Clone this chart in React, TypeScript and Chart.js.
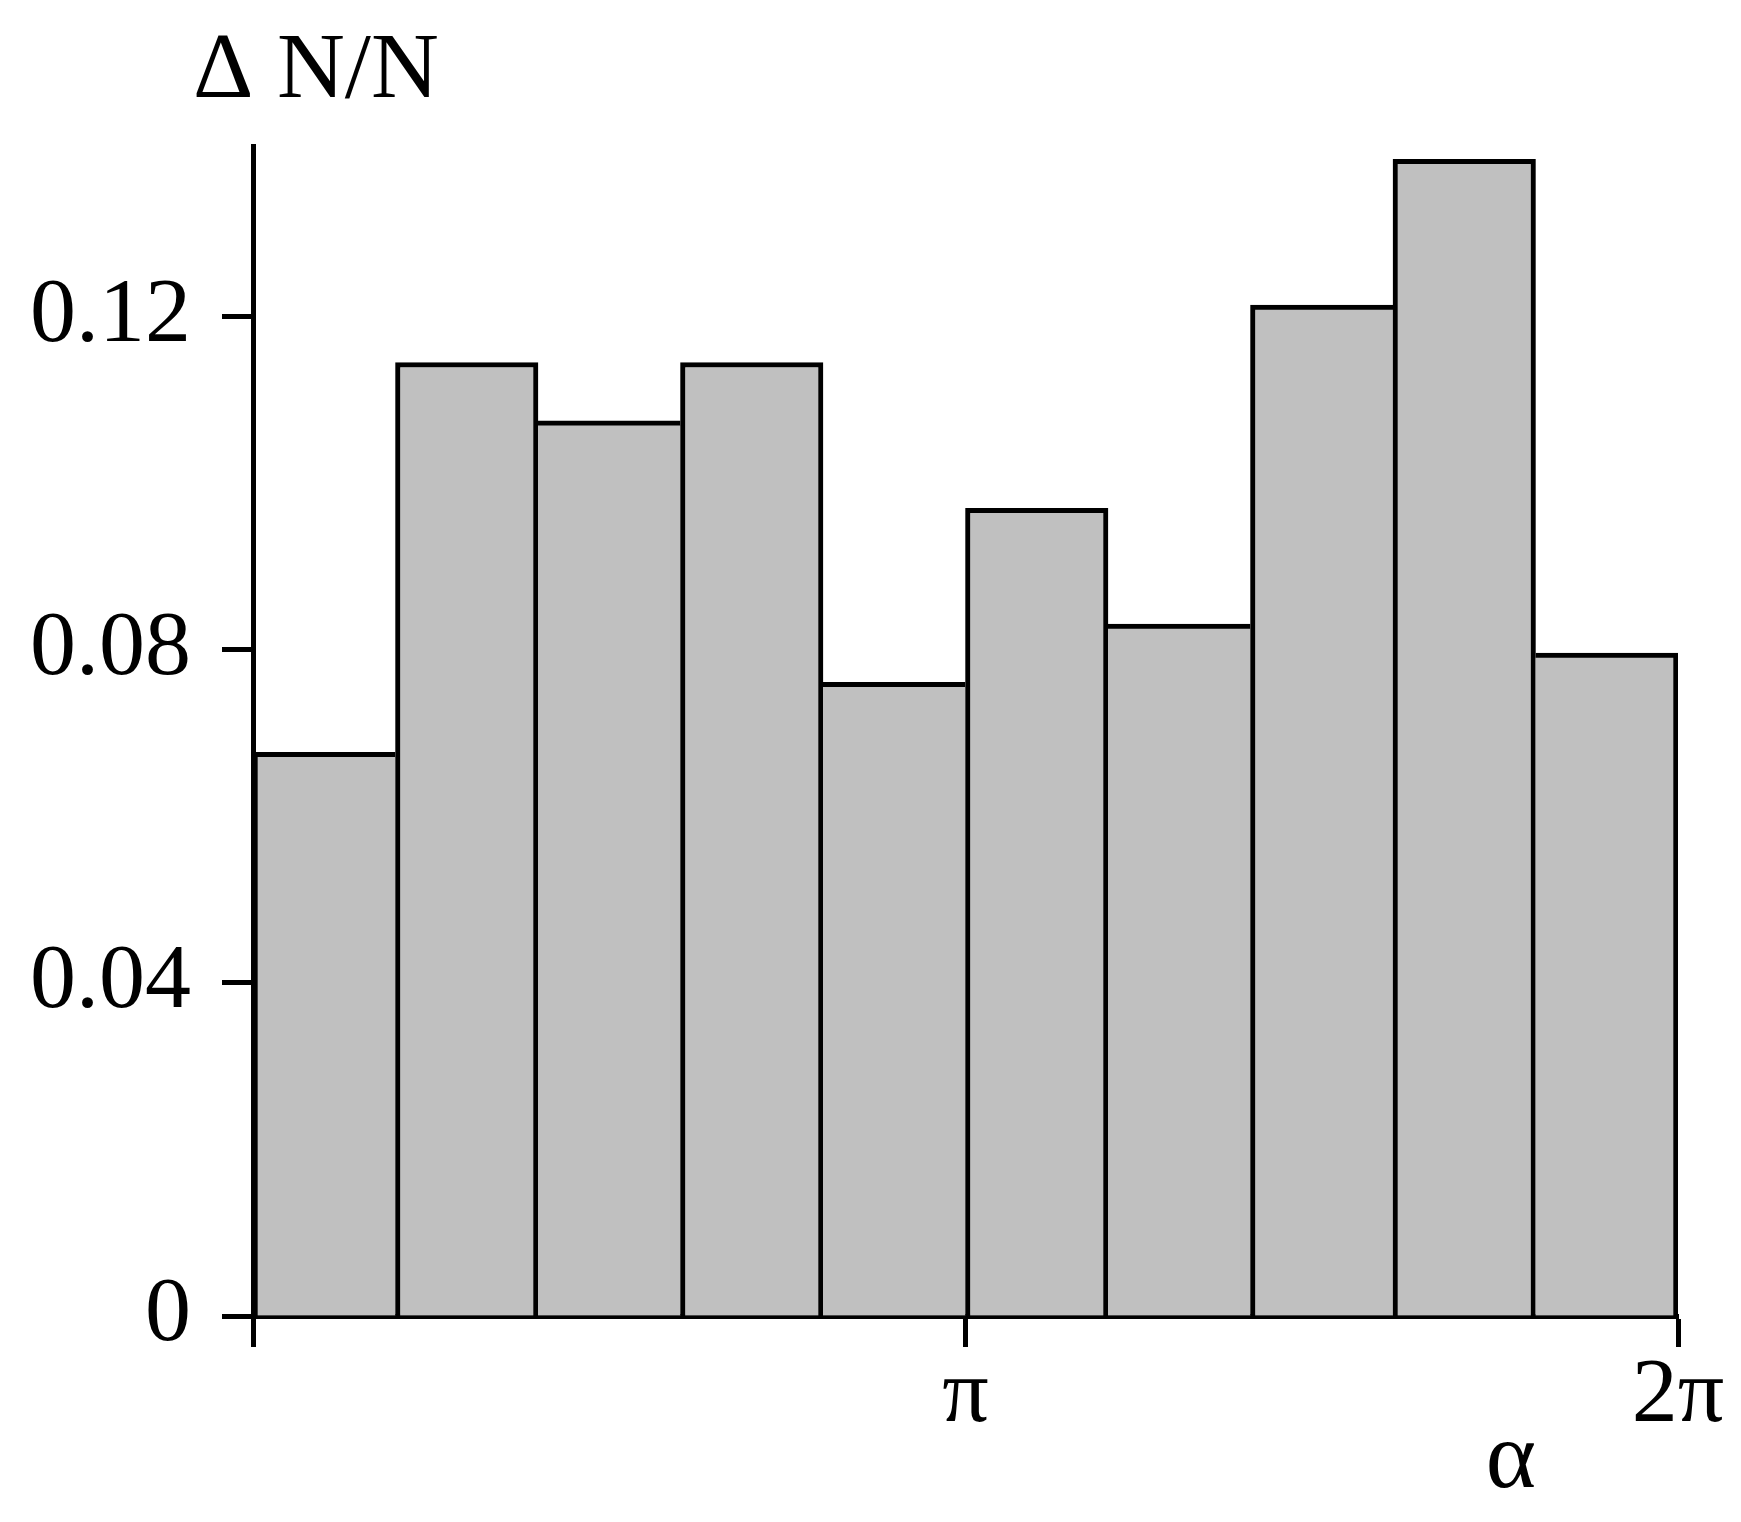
import React, { useEffect, useRef } from "react";
import { Chart, registerables } from "chart.js";

Chart.register(...registerables);

// ---- data ----
const binCentersInPi: number[] = [0.1, 0.3, 0.5, 0.7, 0.9, 1.1, 1.3, 1.5, 1.7, 1.9];
const fractions: number[] = [0.0677, 0.1145, 0.1075, 0.1145, 0.0761, 0.097, 0.0831, 0.1214, 0.1389, 0.0796];
const yTickValues: number[] = [0, 0.04, 0.08, 0.12];
const yTickLabels: string[] = ["0", "0.04", "0.08", "0.12"];
const xTickValuesInPi: number[] = [0, 1, 2];
const xTickLabels: string[] = ["", "π", "2π"];
const yAxisTitle = "Δ N/N";
const xAxisTitle = "α";
const yMax = 0.1405;

const W = 1741;
const H = 1522;
const FONT = "'Liberation Serif', 'Times New Roman', Times, serif";

const axisTitles = {
  id: "axisTitles",
  afterDraw(chart: any) {
    const { ctx, chartArea } = chart;
    ctx.save();
    ctx.fillStyle = "#000";
    ctx.textBaseline = "alphabetic";
    ctx.font = `94px ${FONT}`;
    ctx.textAlign = "left";
    ctx.fillText(yAxisTitle, chartArea.left - 60, chartArea.top - 49);
    ctx.font = `96px ${FONT}`;
    ctx.textAlign = "center";
    ctx.fillText(xAxisTitle, chartArea.right - 167, chartArea.bottom + 171);
    ctx.restore();
  },
};

export default function App() {
  const ref = useRef<HTMLCanvasElement>(null);

  useEffect(() => {
    const canvas = ref.current;
    if (!canvas) return;
    const data = binCentersInPi.map((c, i) => ({ x: c * Math.PI, y: fractions[i] }));
    const bw = 5;
    const borderWidth = (ctx: any) => {
      const i = ctx.dataIndex;
      if (i === undefined) return bw;
      const h = fractions[i];
      const prev = i > 0 ? fractions[i - 1] : -Infinity;
      const next = i < fractions.length - 1 ? fractions[i + 1] : -Infinity;
      return { top: bw, bottom: 0, left: h > prev ? bw : 0, right: h >= next ? bw : 0 };
    };

    const chart = new Chart(canvas, {
      type: "bar",
      data: {
        datasets: [
          {
            data: data as any,
            backgroundColor: "#c0c0c0",
            borderColor: "#000",
            borderWidth: borderWidth as any,
            borderSkipped: false,
            barPercentage: 1,
            categoryPercentage: 1,
          },
        ],
      },
      options: {
        responsive: false,
        animation: false,
        devicePixelRatio: 1,
        layout: { padding: { top: 146, right: 63, bottom: 0, left: 0 } },
        plugins: {
          legend: { display: false },
          tooltip: { enabled: false },
          title: { display: false },
        },
        scales: {
          x: {
            type: "linear",
            min: 0,
            max: 2 * Math.PI,
            offset: false,
            z: 1,
            grid: {
              offset: false,
              drawOnChartArea: false,
              drawTicks: true,
              tickLength: 31,
              tickColor: "#000",
              tickWidth: 5,
            },
            border: { display: true, color: "#000", width: 5 },
            ticks: {
              color: "#000",
              font: { family: FONT, size: 92, lineHeight: 1 },
              padding: 4,
              autoSkip: false,
              maxRotation: 0,
              callback: (_v: any, index: number) => xTickLabels[index],
            },
            afterBuildTicks: (s: any) => {
              s.ticks = xTickValuesInPi.map((v) => ({ value: v * Math.PI }));
            },
            afterFit: (s: any) => {
              s.height = H - 1316;
            },
          },
          y: {
            type: "linear",
            min: 0,
            max: yMax,
            z: 1,
            grid: {
              offset: false,
              drawOnChartArea: false,
              drawTicks: true,
              tickLength: 31,
              tickColor: "#000",
              tickWidth: 5,
            },
            border: { display: true, color: "#000", width: 5 },
            ticks: {
              color: "#000",
              font: { family: FONT, size: 92, lineHeight: 1 },
              padding: 31,
              autoSkip: false,
              callback: (_v: any, index: number) => yTickLabels[index],
            },
            afterBuildTicks: (s: any) => {
              s.ticks = yTickValues.map((v) => ({ value: v }));
            },
            afterFit: (s: any) => {
              s.width = 253;
            },
          },
        },
      } as any,
      plugins: [axisTitles],
    });

    return () => chart.destroy();
  }, []);

  return (
    <div style={{ position: "fixed", left: 0, top: 0, width: W, height: H, background: "#fff" }}>
      <canvas ref={ref} width={W} height={H} style={{ display: "block" }} />
    </div>
  );
}
